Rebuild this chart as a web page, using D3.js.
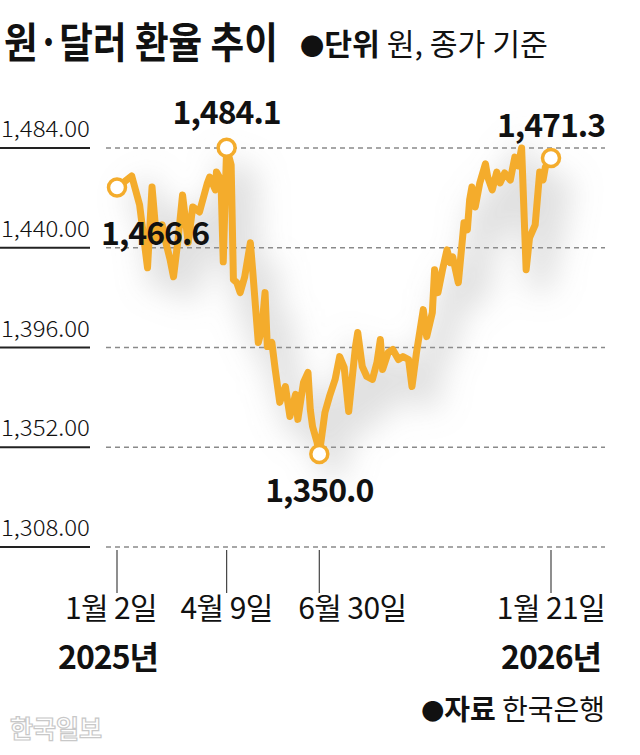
<!DOCTYPE html>
<html>
<head>
<meta charset="utf-8">
<script src="https://cdn.jsdelivr.net/npm/d3@7"></script>
<style>
  html, body { margin: 0; padding: 0; background: #fff; }
  svg { display: block; font-family: 'Noto Sans CJK KR', 'Noto Sans', sans-serif; }
</style>
</head>
<body>
<svg id="chart" width="640" height="755"></svg>
<script>
// ---- data ----
const dates = [
  "2025-01-02","2025-01-15","2025-01-22","2025-01-29","2025-02-02","2025-02-06","2025-02-11","2025-02-13",
  "2025-02-18","2025-02-21","2025-02-25","2025-03-01","2025-03-06","2025-03-10","2025-03-16","2025-03-23",
  "2025-03-25","2025-03-30","2025-03-31","2025-04-04","2025-04-06","2025-04-09","2025-04-13","2025-04-15",
  "2025-04-18","2025-04-21","2025-04-25","2025-04-30","2025-05-02","2025-05-07","2025-05-10","2025-05-13",
  "2025-05-15","2025-05-19","2025-05-22","2025-05-26","2025-05-31","2025-06-04","2025-06-09","2025-06-11",
  "2025-06-16","2025-06-20","2025-06-22","2025-06-24","2025-06-28","2025-06-30","2025-07-05","2025-07-09",
  "2025-07-14","2025-07-18","2025-07-22","2025-07-26","2025-08-01","2025-08-03","2025-08-07","2025-08-11",
  "2025-08-16","2025-08-20","2025-08-23","2025-08-25","2025-08-30","2025-09-03","2025-09-08","2025-09-12",
  "2025-09-17","2025-09-20","2025-09-24","2025-09-30","2025-10-03","2025-10-08","2025-10-10","2025-10-13",
  "2025-10-17","2025-10-21","2025-10-24","2025-10-26","2025-10-31","2025-11-03","2025-11-05","2025-11-08",
  "2025-11-10","2025-11-12","2025-11-15","2025-11-19","2025-11-24","2025-11-26","2025-11-30","2025-12-04",
  "2025-12-07","2025-12-11","2025-12-16","2025-12-20","2025-12-23","2025-12-26","2025-12-30","2026-01-02",
  "2026-01-07","2026-01-11","2026-01-14","2026-01-16","2026-01-21"
];
const rates = [
  1466.6,1471.7,1458.9,1431.2,1466.8,1443.5,1450.1,1444.8,
  1434.7,1427.2,1443.5,1463.3,1442.2,1458.0,1455.8,1468.6,
  1471.2,1465.5,1473.4,1469.9,1433.8,1484.1,1476.5,1425.9,
  1424.6,1420.2,1427.2,1442.2,1430.3,1398.2,1403.9,1420.2,
  1396.4,1398.2,1386.3,1371.8,1378.8,1365.6,1375.3,1364.3,
  1380.6,1385.0,1368.7,1361.2,1354.2,1349.0,1367.4,1374.4,
  1381.9,1392.0,1387.2,1367.8,1396.4,1402.6,1387.6,1383.2,
  1381.9,1389.4,1399.5,1386.3,1393.8,1395.1,1390.7,1392.0,
  1390.7,1378.8,1393.8,1412.7,1400.8,1411.4,1430.3,1420.2,
  1430.3,1439.1,1433.4,1436.0,1424.6,1440.4,1451.0,1447.9,
  1461.1,1466.8,1458.0,1468.6,1477.0,1471.2,1465.5,1473.4,
  1468.6,1473.0,1469.9,1480.0,1476.1,1484.0,1430.3,1444.4,
  1450.1,1473.4,1469.9,1475.6,1479.6
];
const yTicks = [1308, 1352, 1396, 1440, 1484];
const xTickDates = ["2025-01-02", "2025-04-09", "2025-06-30", "2026-01-21"];
const xTickLabels = ["1월 2일", "4월 9일", "6월 30일", "1월 21일"];
const yearLabels = ["2025년", "2026년"];
const yearLabelDates = ["2025-01-02", "2026-01-21"];
const markerDates = ["2025-01-02", "2025-04-09", "2025-06-30", "2026-01-21"];
const markerLabels = ["1,466.6", "1,484.1", "1,350.0", "1,471.3"];
const title = "원·달러 환율 추이";
const unitBold = "단위";
const unitText = " 원, 종가 기준";
const sourceBold = "자료";
const sourceText = " 한국은행";
const watermark = "한국일보";

// ---- setup ----
const parse = d3.timeParse("%Y-%m-%d");
const data = dates.map((d, i) => ({ date: parse(d), value: rates[i] }));
const svg = d3.select("#chart");
const orange = "#F4AC2C";

const x = d3.scaleTime()
  .domain([parse("2025-01-02"), parse("2026-01-21")])
  .range([117, 551]);
const y = d3.scaleLinear().domain([1308, 1484]).range([547, 148]);

// fit a text element horizontally to a target width via transform (narrow typeface look)
function fitWidth(textSel, x0, y0, target) {
  const w = textSel.node().getComputedTextLength();
  textSel.attr("x", 0).attr("y", 0)
    .attr("transform", `translate(${x0},${y0}) scale(${target / w},1)`);
}

// shadow filter
const defs = svg.append("defs");
const f = defs.append("filter").attr("id", "soft").attr("x", "-50%").attr("y", "-50%").attr("width", "200%").attr("height", "200%");
f.append("feGaussianBlur").attr("stdDeviation", 15);

// title
const t1 = svg.append("text")
  .attr("font-size", 42).attr("font-weight", 700).attr("fill", "#111")
  .text(title);
fitWidth(t1, 4, 58, 274);
const unit = svg.append("text").attr("font-size", 30).attr("fill", "#111");
unit.append("tspan").attr("font-size", 24).text("●");
unit.append("tspan").attr("font-weight", 700).text(unitBold);
unit.append("tspan").attr("font-weight", 400).text(unitText);
fitWidth(unit, 300, 55, 248);

// y grid and labels
const yg = svg.append("g");
yTicks.forEach(t => {
  const yy = y(t);
  yg.append("line").attr("x1", 106).attr("x2", 605).attr("y1", yy).attr("y2", yy)
    .attr("stroke", "#8a8a8a").attr("stroke-width", 1.5).attr("stroke-dasharray", "5,4");
  yg.append("line").attr("x1", 0).attr("x2", 90).attr("y1", yy).attr("y2", yy)
    .attr("stroke", "#222").attr("stroke-width", 2);
  const lt = yg.append("text")
    .attr("font-size", 22).attr("font-weight", 300).attr("fill", "#111")
    .text(d3.format(",.2f")(t));
  fitWidth(lt, 1, yy - 11, 89);
});

// x ticks
const tickDx = [-6, 0, 33, 0];
const xg = svg.append("g");
xTickDates.forEach((d, i) => {
  const xx = x(parse(d));
  xg.append("line").attr("x1", xx).attr("x2", xx).attr("y1", 550).attr("y2", 593)
    .attr("stroke", "#444").attr("stroke-width", 1.2);
  xg.append("text").attr("x", xx + tickDx[i]).attr("y", 619).attr("text-anchor", "middle")
    .attr("font-size", 30).attr("font-weight", 400).attr("fill", "#111")
    .attr("letter-spacing", -0.6)
    .text(xTickLabels[i]);
});
const yearDx = [-9, 0];
yearLabelDates.forEach((d, i) => {
  xg.append("text").attr("x", x(parse(d)) + yearDx[i]).attr("y", 669).attr("text-anchor", "middle")
    .attr("font-size", 32).attr("font-weight", 700).attr("fill", "#111")
    .attr("letter-spacing", -1)
    .text(yearLabels[i]);
});

// line
const line = d3.line().x(d => x(d.date)).y(d => y(d.value)).curve(d3.curveLinear);
svg.append("path").datum(data).attr("d", line)
  .attr("fill", "none").attr("stroke", "#9a9a9a").attr("stroke-width", 26)
  .attr("stroke-opacity", 0.3).attr("transform", "translate(14,20)")
  .attr("filter", "url(#soft)");
svg.append("path").datum(data).attr("d", line)
  .attr("fill", "none").attr("stroke", orange).attr("stroke-width", 7)
  .attr("stroke-linejoin", "round").attr("stroke-linecap", "round");

// markers
const byDate = new Map(data.map(d => [+d.date, d]));
const markers = markerDates.map(d => byDate.get(+parse(d)));
svg.append("g").selectAll("circle").data(markers).join("circle")
  .attr("cx", d => x(d.date)).attr("cy", d => y(d.value)).attr("r", 8.5)
  .attr("fill", "#fff").attr("stroke", orange).attr("stroke-width", 3.5);

// marker labels
const lab = [
  { dx: -16, dy: 58, anchor: "start" },
  { dx: 0, dy: -24, anchor: "middle" },
  { dx: 0, dy: 48, anchor: "middle" },
  { dx: 0, dy: -21, anchor: "middle" }
];
svg.append("g").selectAll("text").data(markers).join("text")
  .attr("x", (d, i) => x(d.date) + lab[i].dx)
  .attr("y", (d, i) => y(d.value) + lab[i].dy)
  .attr("text-anchor", (d, i) => lab[i].anchor)
  .attr("font-size", 32).attr("font-weight", 700).attr("fill", "#111")
  .attr("letter-spacing", -1)
  .text((d, i) => markerLabels[i]);

// source
const src = svg.append("text").attr("x", 605).attr("y", 720).attr("text-anchor", "end")
  .attr("font-size", 28).attr("fill", "#111");
src.append("tspan").attr("font-size", 23).text("●");
src.append("tspan").attr("font-weight", 700).text(sourceBold);
src.append("tspan").attr("font-weight", 400).text(sourceText);

// watermark
svg.append("text").attr("x", 10).attr("y", 738)
  .attr("font-size", 25).attr("font-weight", 700).attr("fill", "#fff")
  .attr("stroke", "#c8c8c8").attr("stroke-width", 1.2)
  .text(watermark);
</script>
</body>
</html>
